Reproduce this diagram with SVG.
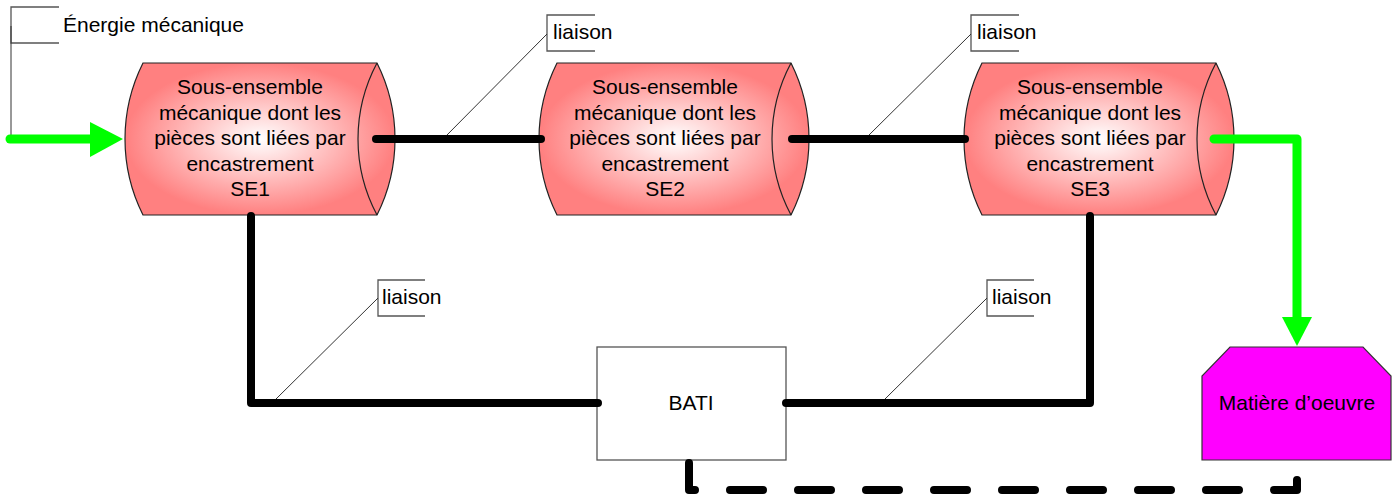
<svg xmlns="http://www.w3.org/2000/svg" width="1400" height="495" viewBox="0 0 1400 495">
<defs>
<radialGradient id="cylGrad" cx="0.5" cy="0.5" r="0.5">
<stop offset="0" stop-color="#ffffff"/>
<stop offset="1" stop-color="#ff8080"/>
</radialGradient>
</defs>
<style>
text{font-family:"Liberation Sans",Arial,sans-serif;font-size:21px;fill:#000}
.mid{text-anchor:middle}
.cyl{fill:url(#cylGrad);stroke:#222;stroke-width:1.2}
.inner{fill:none;stroke:#222;stroke-width:1.2}
.bracket{fill:none;stroke:#555;stroke-width:1.3}
.leader{fill:none;stroke:#333;stroke-width:1}
.link{fill:none;stroke:#000;stroke-width:8;stroke-linecap:round;stroke-linejoin:round}
.flow{fill:none;stroke:#00ff00;stroke-width:9;stroke-linecap:round;stroke-linejoin:round}
.arrow{fill:#00ff00}
.dash{fill:none;stroke:#000;stroke-width:8;stroke-linecap:round;stroke-linejoin:round;stroke-dasharray:33 35}
</style>

<g id="SE1">
<path class="cyl" d="M143,63 L377,63 A169.4,169.4 0 0 1 377,215 L143,215 A169.4,169.4 0 0 1 143,63 Z"/>
<path class="inner" d="M377,63 A161.5,161.5 0 0 0 377,215"/>
<text class="mid" x="250" y="94">Sous-ensemble</text>
<text class="mid" x="250" y="119.5">mécanique dont les</text>
<text class="mid" x="250" y="145">pièces sont liées par</text>
<text class="mid" x="250" y="170.5">encastrement</text>
<text class="mid" x="250" y="196">SE1</text>
</g>

<g id="SE2" transform="translate(414,0)">
<path class="cyl" d="M143,63 L377,63 A169.4,169.4 0 0 1 377,215 L143,215 A169.4,169.4 0 0 1 143,63 Z"/>
<path class="inner" d="M377,63 A161.5,161.5 0 0 0 377,215"/>
<text class="mid" x="251" y="94">Sous-ensemble</text>
<text class="mid" x="251" y="119.5">mécanique dont les</text>
<text class="mid" x="251" y="145">pièces sont liées par</text>
<text class="mid" x="251" y="170.5">encastrement</text>
<text class="mid" x="251" y="196">SE2</text>
</g>

<g id="SE3" transform="translate(839,0)">
<path class="cyl" d="M143,63 L377,63 A169.4,169.4 0 0 1 377,215 L143,215 A169.4,169.4 0 0 1 143,63 Z"/>
<path class="inner" d="M377,63 A161.5,161.5 0 0 0 377,215"/>
<text class="mid" x="251" y="94">Sous-ensemble</text>
<text class="mid" x="251" y="119.5">mécanique dont les</text>
<text class="mid" x="251" y="145">pièces sont liées par</text>
<text class="mid" x="251" y="170.5">encastrement</text>
<text class="mid" x="251" y="196">SE3</text>
</g>

<g id="BATI">
<rect x="597" y="347" width="189" height="113" fill="#ffffff" stroke="#555" stroke-width="1.3"/>
<text class="mid" x="691" y="410">BATI</text>
</g>

<g id="matiere">
<polygon points="1230,347 1363,347 1391,376 1391,460 1202,460 1202,376" fill="#ff00ff" stroke="#333" stroke-width="1.2"/>
<text class="mid" x="1297" y="410">Matière d’oeuvre</text>
</g>

<g id="callout-energie">
<path class="bracket" d="M59,7 L11,7 L11,43 L59,43"/>
<path class="leader" d="M11,26 L11,139"/>
<text x="63" y="32">Énergie mécanique</text>
</g>

<g id="callout-liaison1">
<path class="bracket" d="M595,15 L547,15 L547,51 L595,51"/>
<path class="leader" d="M547,34 L445,137"/>
<text x="553" y="39">liaison</text>
</g>

<g id="callout-liaison2">
<path class="bracket" d="M1019,15 L971,15 L971,51 L1019,51"/>
<path class="leader" d="M971,34 L867,137"/>
<text x="977" y="39">liaison</text>
</g>

<g id="callout-liaison3">
<path class="bracket" d="M425,280 L378,280 L378,316 L425,316"/>
<path class="leader" d="M378,298 L275,400"/>
<text x="382" y="304">liaison</text>
</g>

<g id="callout-liaison4">
<path class="bracket" d="M1034,280 L987,280 L987,316 L1034,316"/>
<path class="leader" d="M987,298 L884,400"/>
<text x="992" y="304">liaison</text>
</g>

<g id="connectors">
<path class="link" d="M376,139 L541,139"/>
<path class="link" d="M792,139 L965,139"/>
<path class="link" d="M251,216 L251,403 L598,403"/>
<path class="link" d="M786,403 L1090,403 L1090,216"/>
<path class="dash" d="M689,463 L689,490 L1297,490 L1297,463"/>
<path class="flow" d="M10,139 L92,139"/>
<polygon class="arrow" points="90,122 123,139 90,157"/>
<path class="flow" d="M1214,139 L1297,139 L1297,318"/>
<polygon class="arrow" points="1282,317 1312,317 1297,346"/>
</g>
</svg>
